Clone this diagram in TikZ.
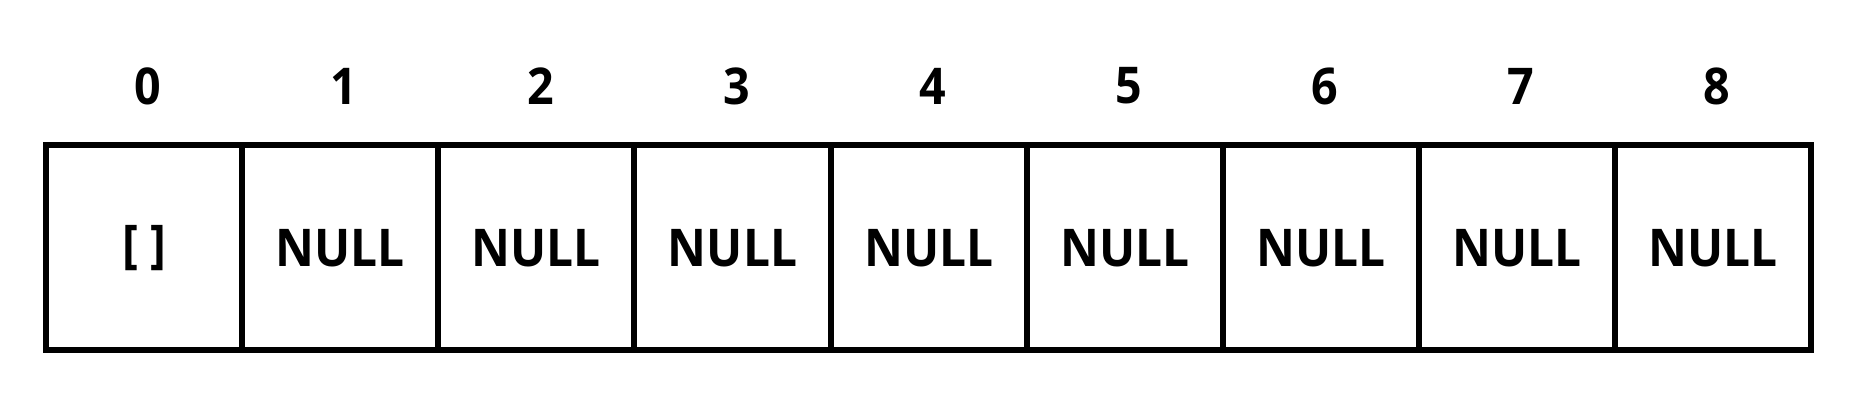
\documentclass[tikz,border=0pt]{standalone}
\usepackage{fontspec}
\setmainfont{Open Sans}[FakeStretch=0.92]
\begin{document}
\begin{tikzpicture}[x=0.75pt,y=-0.75pt,
  cell/.style={draw=black,line width=4.5pt,minimum width=147.1pt,minimum height=153.4pt,
    inner sep=0pt,outer sep=0pt,font=\fontsize{39}{40}\selectfont\bfseries},
  idx/.style={inner sep=0pt,font=\fontsize{38}{40}\selectfont\bfseries}]
\useasboundingbox (0,0) rectangle (1857,409);
\foreach \i/\t in {0/{[ ]},1/NULL,2/NULL,3/NULL,4/NULL,5/NULL,6/NULL,7/NULL,8/NULL}{
  \node[cell] (c\i) at ({46+196.15*(\i+0.5)},247.7) {\t};
  \node[idx] (l\i) at ({50+196.15*(\i+0.5)},86) {\i};
}
\end{tikzpicture}
\end{document}
